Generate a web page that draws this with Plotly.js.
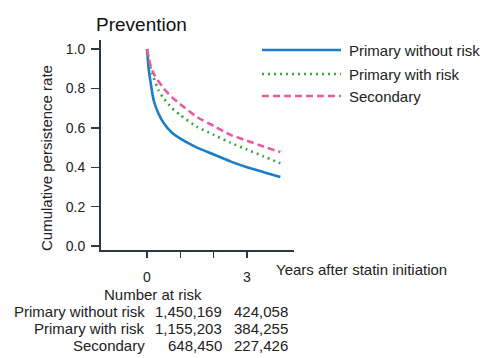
<!DOCTYPE html>
<html>
<head>
<meta charset="utf-8">
<script src="https://cdn.plot.ly/plotly-3.0.1.min.js"></script>
<style>
  html, body { margin: 0; padding: 0; background: #fff; }
  #chart { width: 483px; height: 358px; }
</style>
</head>
<body>
<div id="chart"></div>
<script>
// Years since statin initiation at which persistence is sampled
const years = [0, 0.05, 0.1, 0.2, 0.35, 0.5, 0.75, 1, 1.5, 2, 2.5, 3, 3.5, 4];

// Cumulative persistence rate per group
const primaryWithoutRisk = [1.0, 0.90, 0.84, 0.74, 0.67, 0.625, 0.575, 0.545, 0.50, 0.465, 0.43, 0.40, 0.375, 0.35];
const primaryWithRisk    = [1.0, 0.95, 0.91, 0.855, 0.79, 0.75, 0.70, 0.665, 0.605, 0.565, 0.525, 0.49, 0.455, 0.42];
const secondary          = [1.0, 0.955, 0.92, 0.875, 0.835, 0.80, 0.755, 0.72, 0.655, 0.61, 0.565, 0.535, 0.505, 0.477];

const groupNames = ['Primary without risk', 'Primary with risk', 'Secondary'];

// Number at risk at year 0 and year 3
const atRiskYear0 = [1450169, 1155203, 648450];
const atRiskYear3 = [424058, 384255, 227426];

const xTickVals = [0, 1, 2, 3];
const xTickText = ['0', '', '', '3'];

// Plot area in pixels (left, right, top, bottom)
const L = 101, R = 294, T = 40, B = 250;
const px = x => (x - L) / (R - L);
const py = y => (B - y) / (B - T);

const FONT = 'Liberation Sans, Arial, sans-serif';
const TXT = '#222';
const FS = 15;

const styles = [
  { color: '#1a7dc6', dash: 'solid' },
  { color: '#3aa542', dash: '2px,4px' },
  { color: '#ea5a9c', dash: '7px,4px' }
];
const series = [primaryWithoutRisk, primaryWithRisk, secondary];

const traces = series.map((vals, i) => ({
  x: years,
  y: vals,
  type: 'scatter',
  mode: 'lines',
  name: groupNames[i],
  line: { color: styles[i].color, width: 2.6, dash: styles[i].dash, shape: 'spline', smoothing: 0.6 },
  hoverinfo: 'skip'
}));

// Legend keys drawn as paper-space lines with text beside them
const legendY = [50, 74, 96];
const shapes = legendY.map((y, i) => ({
  type: 'line', xref: 'paper', yref: 'paper',
  x0: px(262), x1: px(341), y0: py(y), y1: py(y),
  line: { color: styles[i].color, width: 2.4, dash: styles[i].dash }
}));

const annotations = [];
legendY.forEach((y, i) => {
  annotations.push({
    xref: 'paper', yref: 'paper', x: px(347), y: py(y),
    xanchor: 'left', yanchor: 'middle', showarrow: false,
    text: groupNames[i], font: { family: FONT, size: FS, color: TXT }
  });
});

// Y axis title
annotations.push({
  xref: 'paper', yref: 'paper', x: px(46), y: py(158),
  xanchor: 'center', yanchor: 'middle', showarrow: false, textangle: -90,
  text: 'Cumulative persistence rate', font: { family: FONT, size: FS, color: TXT }
});

// X axis title
annotations.push({
  xref: 'paper', yref: 'paper', x: px(274), y: py(269),
  xanchor: 'left', yanchor: 'middle', showarrow: false,
  text: 'Years after statin initiation', font: { family: FONT, size: FS, color: TXT }
});

// Number-at-risk table (rows are packed tightly, so each cell gets a fixed box height)
annotations.push({
  xref: 'paper', yref: 'paper', x: px(153), y: py(294),
  xanchor: 'center', yanchor: 'middle', showarrow: false,
  text: 'Number at risk', font: { family: FONT, size: FS, color: TXT }
});
const rowY = [311.5, 328.5, 345.5];
const fmt = n => n.toLocaleString('en-US');
const cell = (x, y, text) => ({
  xref: 'paper', yref: 'paper', x: px(x), y: py(y),
  xanchor: 'right', yanchor: 'middle', showarrow: false, height: 17, valign: 'middle',
  borderpad: 0,
  text: text, font: { family: FONT, size: FS, color: TXT }
});
groupNames.forEach((name, i) => {
  annotations.push(cell(146, rowY[i], name));
  annotations.push(cell(223, rowY[i], fmt(atRiskYear0[i])));
  annotations.push(cell(289, rowY[i], fmt(atRiskYear3[i])));
});

const layout = {
  width: 483, height: 358,
  margin: { l: L, r: 483 - R, t: T, b: 358 - B, pad: 0 },
  paper_bgcolor: '#fff', plot_bgcolor: '#fff',
  showlegend: false,
  title: {
    text: 'Prevention', x: 96 / 483, xanchor: 'left', xref: 'container',
    y: 1 - 24 / 358, yanchor: 'middle', yref: 'container',
    font: { family: FONT, size: 19, color: '#111' }
  },
  xaxis: {
    range: [-1.38, 4.41],
    tickvals: xTickVals, ticktext: xTickText,
    ticks: 'outside', ticklen: 6, tickwidth: 1.5, tickcolor: '#2b3a42',
    showline: true, linecolor: '#2b3a42', linewidth: 2,
    showgrid: false, zeroline: false,
    ticklabelstandoff: 7,
    tickfont: { family: FONT, size: 14, color: TXT }
  },
  yaxis: {
    range: [-0.02, 1.046],
    tickvals: [0, 0.2, 0.4, 0.6, 0.8, 1.0],
    tickformat: '.1f',
    ticks: 'outside', ticklen: 8, tickwidth: 1.5, tickcolor: '#2b3a42',
    showline: true, linecolor: '#2b3a42', linewidth: 2,
    showgrid: false, zeroline: false,
    ticklabelstandoff: 3,
    tickfont: { family: FONT, size: 14, color: TXT }
  },
  shapes: shapes,
  annotations: annotations
};

Plotly.newPlot('chart', traces, layout, { staticPlot: true, displayModeBar: false });
</script>
</body>
</html>
